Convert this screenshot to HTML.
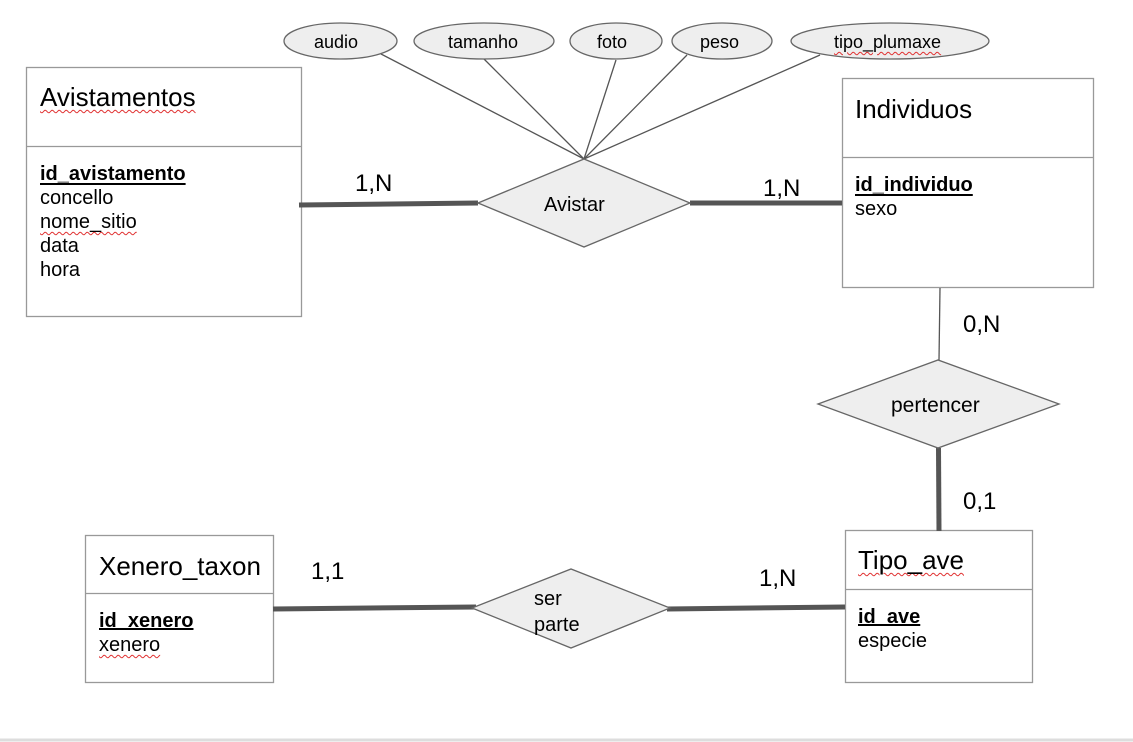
<!DOCTYPE html>
<html><head><meta charset="utf-8"><style>
body{margin:0;width:1133px;height:742px;background:#fff;position:relative;overflow:hidden;font-family:"Liberation Sans",Arial,sans-serif;color:#000}
svg{position:absolute;left:0;top:0}
.t{position:absolute;white-space:nowrap;line-height:1}
.sq{text-decoration:underline wavy #e03030;text-decoration-thickness:1px;text-underline-offset:3px}
.u{text-decoration:underline;font-weight:bold}
.a{font-size:20px}
.h{font-size:26px}
.c{font-size:24px}
.e{font-size:18px}
</style></head><body>
<svg width="1133" height="742">
<g fill="#fff" stroke="#999" stroke-width="1.3">
<rect x="26.5" y="67.5" width="275" height="249"/><line x1="26" y1="146.5" x2="301" y2="146.5"/>
<rect x="842.5" y="78.5" width="251" height="209"/><line x1="842" y1="157.5" x2="1093" y2="157.5"/>
<rect x="85.5" y="535.5" width="188" height="147"/><line x1="85" y1="593.5" x2="273" y2="593.5"/>
<rect x="845.5" y="530.5" width="187" height="152"/><line x1="845" y1="589.5" x2="1032" y2="589.5"/>
</g>
<g stroke="#555" stroke-width="1.3">
<line x1="381" y1="54" x2="584" y2="159"/><line x1="484" y1="59" x2="584" y2="159"/>
<line x1="616" y1="60" x2="584" y2="159"/><line x1="687" y1="55" x2="584" y2="159"/>
<line x1="820" y1="55" x2="584" y2="159"/><line x1="940" y1="288" x2="939" y2="360"/>
</g>
<g stroke="#555" stroke-width="5">
<line x1="299" y1="205" x2="478" y2="203"/><line x1="690" y1="203" x2="842" y2="203"/>
<line x1="938.5" y1="448" x2="939" y2="531"/><line x1="273" y1="609" x2="476" y2="607"/>
<line x1="667" y1="609" x2="845" y2="607"/>
</g>
<g fill="#eee" stroke="#666" stroke-width="1.3">
<ellipse cx="340.5" cy="41" rx="56.5" ry="18"/><ellipse cx="484" cy="41" rx="70" ry="18"/>
<ellipse cx="616" cy="41" rx="46" ry="18"/><ellipse cx="722" cy="41" rx="50" ry="18"/>
<ellipse cx="890" cy="41" rx="99" ry="18"/>
<polygon points="478,203 584,159 690,203 584,247"/>
<polygon points="818,404 938,360 1059,404 938,448"/>
<polygon points="472,608 571,569 670,608 571,648"/>
</g>
<line x1="0" y1="740" x2="1133" y2="740" stroke="#ddd" stroke-width="3"/>
</svg>
<div class="t e" style="left:314px;top:33px">audio</div>
<div class="t e" style="left:448px;top:33px">tamanho</div>
<div class="t e" style="left:597px;top:33px">foto</div>
<div class="t e" style="left:700px;top:33px">peso</div>
<div class="t e sq" style="left:834px;top:33px">tipo_plumaxe</div>
<div class="t h sq" style="left:40px;top:84px">Avistamentos</div>
<div class="t a" style="left:40px;top:162px;line-height:24px"><span class="u sq">id_avistamento</span><br>concello<br><span class="sq">nome_sitio</span><br>data<br>hora</div>
<div class="t h" style="left:855px;top:96px">Individuos</div>
<div class="t a" style="left:855px;top:173px;line-height:24px"><span class="u sq">id_individuo</span><br>sexo</div>
<div class="t h" style="left:99px;top:553px">Xenero_taxon</div>
<div class="t a" style="left:99px;top:609px;line-height:24px"><span class="u">id_xenero</span><br><span class="sq">xenero</span></div>
<div class="t h sq" style="left:858px;top:547px">Tipo_ave</div>
<div class="t a" style="left:858px;top:605px;line-height:24px"><span class="u">id_ave</span><br>especie</div>
<div class="t a" style="left:544px;top:195px">Avistar</div>
<div class="t a" style="left:891px;top:395px;font-size:21px">pertencer</div>
<div class="t a" style="left:534px;top:586px;line-height:26px">ser<br>parte</div>
<div class="t c" style="left:355px;top:172px">1,N</div>
<div class="t c" style="left:763px;top:177px">1,N</div>
<div class="t c" style="left:963px;top:313px">0,N</div>
<div class="t c" style="left:963px;top:490px">0,1</div>
<div class="t c" style="left:311px;top:560px">1,1</div>
<div class="t c" style="left:759px;top:567px">1,N</div>
</body></html>
